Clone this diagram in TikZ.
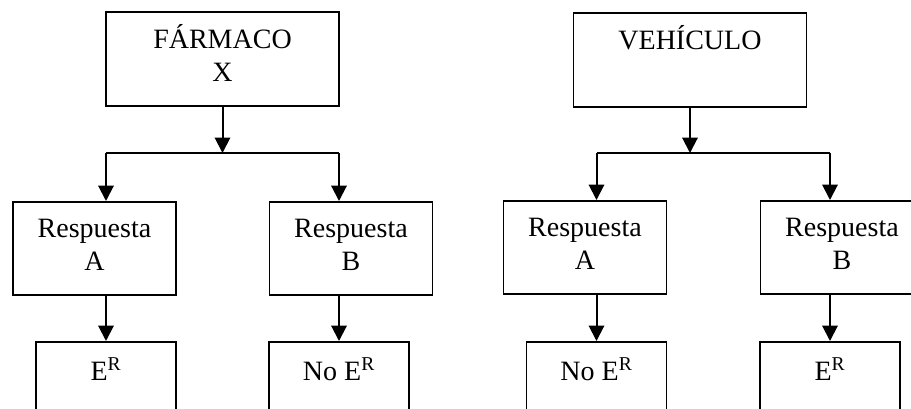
\documentclass[tikz,border=0pt]{standalone}
\usepackage{fontspec}
\setmainfont{Liberation Serif}
\usetikzlibrary{positioning}
\usetikzlibrary{arrows.meta}
\tikzset{box/.style={ % Boxes with their text near the top
           draw, line width=1.4pt,
           anchor=north, align=center,
           inner xsep=0pt, inner ysep=0pt,
           font=\fontsize{21}{24.75}\selectfont},
         topbox/.style={box, minimum width=174.75pt, text height=52.5pt, text depth=18pt},
         midbox/.style={box, minimum width=122.25pt, text height=51.75pt, text depth=18pt},
         endbox/.style={box, minimum width=105pt, text height=29.25pt, text depth=40.5pt},
         arrow/.style={-{Triangle[length=11.5pt, width=11.5pt]}, line width=1.5pt},
         link/.style={line width=1.5pt}}

\begin{document}
\begin{tikzpicture}[x=0.75pt, y=-0.75pt]
      \clip (0,0) rectangle (911,408);
      \useasboundingbox (0,0) rectangle (911,408);

      % Left tree
      \node[topbox] (farmaco) at (222.5,11) {FÁRMACO\\X};
      \node[midbox] (respA1) at (94.5,201) {Respuesta\\A};
      \node[midbox] (respB1) at (351,201) {Respuesta\\B};
      \node[endbox] (efA1) at (106,341) {E\textsuperscript{R}};
      \node[endbox] (efB1) at (339,341) {No E\textsuperscript{R}};
      \coordinate (split1) at (222.5,153);

      \draw[arrow] (farmaco.south) -- (split1);
      \draw[link] (efA1.north |- split1) -- (efB1.north |- split1);
      \draw[arrow] (efA1.north |- split1) -- (efA1.north |- respA1.north);
      \draw[arrow] (efB1.north |- split1) -- (efB1.north |- respB1.north);
      \draw[arrow] (efA1.north |- respA1.south) -- (efA1.north);
      \draw[arrow] (efB1.north |- respB1.south) -- (efB1.north);

      % Right tree
      \node[topbox] (vehiculo) at (690,12) {VEHÍCULO\\\phantom{X}};
      \node[midbox] (respA2) at (585,200) {Respuesta\\A};
      \node[midbox] (respB2) at (842,200) {Respuesta\\B};
      \node[endbox] (efA2) at (596.5,341) {No E\textsuperscript{R}};
      \node[endbox] (efB2) at (830,341) {E\textsuperscript{R}};
      \coordinate (split2) at (690,153);

      \draw[arrow] (vehiculo.south) -- (split2);
      \draw[link] (efA2.north |- split2) -- (efB2.north |- split2);
      \draw[arrow] (efA2.north |- split2) -- (efA2.north |- respA2.north);
      \draw[arrow] (efB2.north |- split2) -- (efB2.north |- respB2.north);
      \draw[arrow] (efA2.north |- respA2.south) -- (efA2.north);
      \draw[arrow] (efB2.north |- respB2.south) -- (efB2.north);
    \end{tikzpicture}
\end{document}
